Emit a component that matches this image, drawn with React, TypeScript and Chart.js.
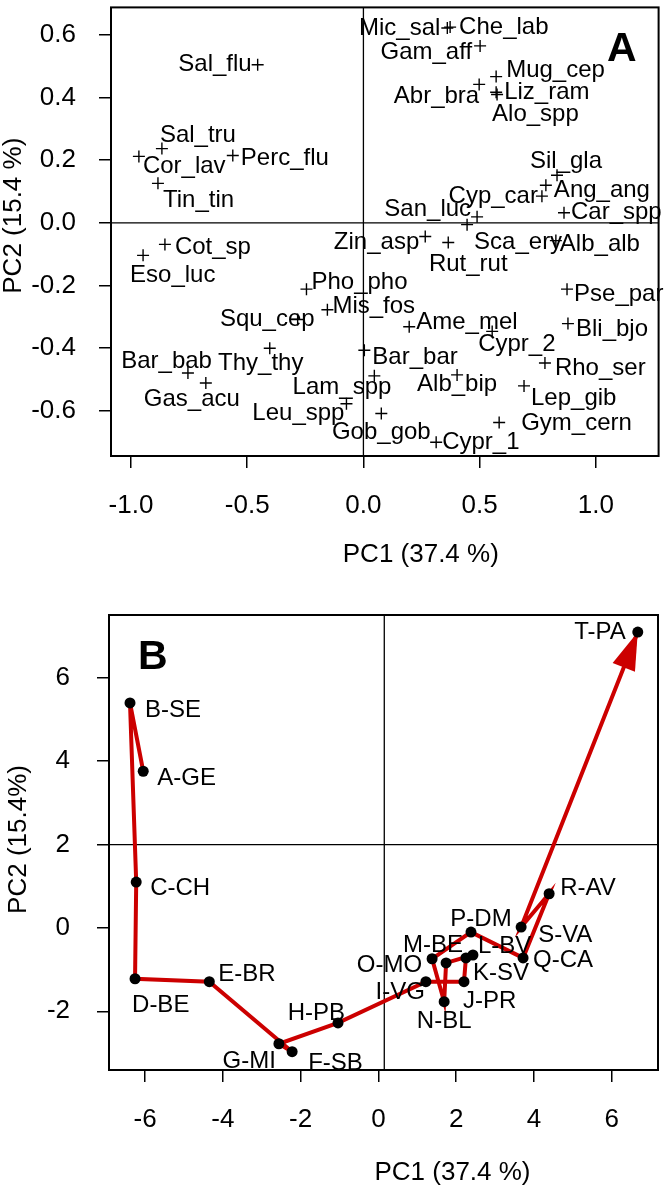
import React, { useEffect, useRef } from "react";
import { Chart, registerables } from "chart.js";
Chart.register(...registerables);

// ---------- Panel A data (species loadings) ----------
const speciesNames = [
  "Sal_flu", "Sal_tru", "Cor_lav", "Tin_tin", "Perc_flu", "Mic_sal", "Che_lab", "Gam_aff",
  "Mug_cep", "Abr_bra", "Liz_ram", "Alo_spp", "Sil_gla", "Ang_ang", "Cyp_car", "Car_spp",
  "San_luc", "Sca_ery", "Zin_asp", "Rut_rut", "Alb_alb", "Cot_sp", "Eso_luc", "Pho_pho",
  "Mis_fos", "Squ_cep", "Thy_thy", "Bar_bab", "Gas_acu", "Leu_spp", "Lam_spp", "Pse_par",
  "Ame_mel", "Cypr_2", "Bli_bjo", "Bar_bar", "Rho_ser", "Alb_bip", "Lep_gib", "Gob_gob",
  "Cypr_1", "Gym_cern",
];
const speciesPC1 = [
  -0.455, -0.867, -0.966, -0.884, -0.562, 0.361, 0.373, 0.502,
  0.571, 0.498, 0.571, 0.575, 0.833, 0.785, 0.768, 0.863,
  0.489, 0.446, 0.266, 0.365, 0.828, -0.854, -0.948, -0.245,
  -0.155, -0.283, -0.403, -0.755, -0.678, -0.073, 0.047, 0.876,
  0.197, 0.554, 0.88, 0.004, 0.781, 0.403, 0.691, 0.077,
  0.313, 0.584,
];
const speciesPC2 = [
  0.505, 0.237, 0.212, 0.126, 0.215, 0.622, 0.625, 0.565,
  0.467, 0.442, 0.417, 0.41, 0.152, 0.12, 0.085, 0.032,
  0.019, -0.006, -0.044, -0.063, -0.057, -0.069, -0.104, -0.212,
  -0.278, -0.309, -0.401, -0.48, -0.512, -0.578, -0.489, -0.212,
  -0.332, -0.347, -0.322, -0.407, -0.448, -0.486, -0.521, -0.609,
  -0.701, -0.638,
];
const ticksAx = [-1, -0.5, 0, 0.5, 1];
const ticksAy = [-0.6, -0.4, -0.2, 0, 0.2, 0.4, 0.6];

// ---------- Panel B data (site scores, trajectory order) ----------
const siteNames = [
  "A-GE", "B-SE", "C-CH", "D-BE", "E-BR", "F-SB", "G-MI", "H-PB", "I-VG", "J-PR",
  "K-SV", "L-BV", "M-BE", "N-BL", "O-MO", "P-DM", "Q-CA", "R-AV", "S-VA", "T-PA",
];
const sitePC1 = [
  -6.05, -6.39, -6.23, -6.26, -4.35, -2.22, -2.56, -1.04, 1.22, 2.2,
  2.25, 2.43, 1.74, 1.69, 1.38, 2.38, 3.72, 4.39, 3.67, 6.67,
];
const sitePC2 = [
  3.76, 5.4, 1.1, -1.22, -1.29, -2.97, -2.78, -2.28, -1.29, -1.29,
  -0.72, -0.65, -0.84, -1.77, -0.74, -0.1, -0.72, 0.82, 0.02, 7.1,
];
const ticksBx = [-6, -4, -2, 0, 2, 4, 6];
const ticksBy = [-2, 0, 2, 4, 6];

const xTitle = "PC1 (37.4 %)";
const yTitleA = "PC2 (15.4 %)";
const yTitleB = "PC2 (15.4%)";

// ---------- label placement (style: pixel offset from point + alignment) ----------
type Place = [number, number, CanvasTextAlign];
const labelPlaceA: Place[] = [
  [-6, 0, "right"], [-2, -13, "left"], [4, 10, "left"], [5, 17, "left"], [8, 3, "left"],
  [-7, 0, "right"], [9, 0, "left"], [-8, 6, "right"], [10, -6, "left"], [0, 12, "right"],
  [8, 0, "left"], [-5, 20, "left"], [9, -14, "center"], [8, 5, "left"], [-4, 0, "right"],
  [7, 0, "left"], [-6, -7, "right"], [7, 18, "left"], [-6, 6, "right"], [20, 22, "center"],
  [4, 4, "left"], [10, 3, "left"], [-13, 20, "left"], [5, -7, "left"], [5, -3, "left"],
  [17, 0, "right"], [-9, 15, "center"], [24, -12, "right"], [-14, 16, "center"], [-2, 10, "right"],
  [17, 12, "right"], [7, 5, "left"], [7, -4, "left"], [-14, 13, "left"], [8, 6, "left"],
  [8, 7, "left"], [10, 5, "left"], [0, 9, "center"], [7, 12, "left"], [0, 19, "center"],
  [6, 0, "left"], [22, 1, "left"],
];
const labelPlaceB: Place[] = [
  [14, 7, "left"], [15, 7, "left"], [14, 6, "left"], [-3, 27, "left"], [9, -7, "left"],
  [16, 12, "left"], [-3, 18, "right"], [7, -10, "right"], [-1, 11, "right"], [-1, 20, "left"],
  [7, 15, "left"], [5, -9, "left"], [17, -18, "right"], [0, 20, "center"], [-10, 7, "right"],
  [10, -13, "center"], [10, 2, "left"], [11, -5, "left"], [17, 8, "left"], [-12, 0, "right"],
];

const FONT = "'Liberation Sans', Arial, Helvetica, sans-serif";
const RED = "#CC0000";

interface PanelOpts {
  names: string[];
  place: Place[];
  refX: number;
  refY: number;
  letter: string;
  letterPos: "left" | "right";
  yTitle: string;
  xTitleDx: number;
  xTitleDy: number;
  yTitleX: number;
  yTitleDy: number;
  arrow: boolean;
}

function panelPlugin(o: PanelOpts) {
  return {
    id: "panelDecor",
    beforeDatasetsDraw(chart: any) {
      const { ctx, chartArea: a, scales } = chart;
      const xs = scales.x, ys = scales.y;
      ctx.save();
      ctx.strokeStyle = "#000";
      ctx.lineWidth = 1.3;
      const vx = xs.getPixelForValue(o.refX);
      const hy = ys.getPixelForValue(o.refY);
      ctx.beginPath();
      ctx.moveTo(vx, a.top);
      ctx.lineTo(vx, a.bottom);
      ctx.moveTo(a.left, hy);
      ctx.lineTo(a.right, hy);
      ctx.stroke();
      if (o.arrow) {
        const pts = chart.getDatasetMeta(0).data;
        const p2 = pts[pts.length - 1];
        const p1 = pts[pts.length - 2];
        const dx = p2.x - p1.x, dy = p2.y - p1.y;
        const len = Math.hypot(dx, dy);
        const ux = dx / len, uy = dy / len;
        const L = 38, W = 12;
        const bx = p2.x - ux * L, by = p2.y - uy * L;
        ctx.fillStyle = RED;
        ctx.beginPath();
        ctx.moveTo(p2.x, p2.y);
        ctx.lineTo(bx - uy * W, by + ux * W);
        ctx.lineTo(bx + uy * W, by - ux * W);
        ctx.closePath();
        ctx.fill();
      }
      ctx.restore();
    },
    afterDatasetsDraw(chart: any) {
      const { ctx, chartArea: a } = chart;
      const pts = chart.getDatasetMeta(0).data;
      ctx.save();
      ctx.fillStyle = "#000";
      ctx.font = `24px ${FONT}`;
      ctx.textBaseline = "middle";
      o.names.forEach((n, i) => {
        const [dx, dy, al] = o.place[i];
        ctx.textAlign = al;
        ctx.fillText(n, pts[i].x + dx, pts[i].y + dy);
      });
      // box
      ctx.strokeStyle = "#000";
      ctx.lineWidth = 2;
      ctx.strokeRect(a.left, a.top, a.right - a.left, a.bottom - a.top);
      // panel letter
      ctx.font = `bold 41px ${FONT}`;
      if (o.letterPos === "right") {
        ctx.textAlign = "right";
        ctx.fillText(o.letter, a.right - 22, a.top + 42);
      } else {
        ctx.textAlign = "left";
        ctx.fillText(o.letter, a.left + 29, a.top + 43);
      }
      // axis titles
      ctx.font = `26px ${FONT}`;
      ctx.textAlign = "center";
      ctx.fillText(xTitle, (a.left + a.right) / 2 + o.xTitleDx, a.bottom + o.xTitleDy);
      ctx.save();
      ctx.translate(o.yTitleX, (a.top + a.bottom) / 2 + o.yTitleDy);
      ctx.rotate(-Math.PI / 2);
      ctx.fillText(o.yTitle, 0, 0);
      ctx.restore();
      ctx.restore();
    },
  };
}

function axis(min: number, max: number, ticks: number[], fmt: (v: number) => string, fit: (s: any) => void, pad: number) {
  return {
    type: "linear" as const,
    min,
    max,
    afterBuildTicks: (s: any) => {
      s.ticks = ticks.map((v) => ({ value: v }));
    },
    afterFit: (s: any) => {
      fit(s);
      s.paddingTop = 0;
      s.paddingBottom = 0;
      s.paddingLeft = 0;
      s.paddingRight = 0;
    },
    ticks: {
      font: { family: FONT, size: 26 },
      color: "#000",
      padding: pad,
      autoSkip: false,
      maxRotation: 0,
      callback: (v: any) => fmt(Number(v)),
    },
    grid: { drawOnChartArea: false, drawTicks: true, tickLength: 12, color: "#000", lineWidth: 1.5 },
    border: { display: false },
  };
}

export default function App() {
  const refA = useRef<HTMLCanvasElement>(null);
  const refB = useRef<HTMLCanvasElement>(null);

  useEffect(() => {
    const dataA = speciesNames.map((_, i) => ({ x: speciesPC1[i], y: speciesPC2[i] }));
    const dataB = siteNames.map((_, i) => ({ x: sitePC1[i], y: sitePC2[i] }));

    const chartA = new Chart(refA.current!, {
      type: "scatter",
      data: {
        datasets: [
          {
            data: dataA,
            pointStyle: "cross",
            radius: 6,
            borderWidth: 1.4,
            borderColor: "#000",
            backgroundColor: "#000",
          },
        ],
      },
      options: {
        responsive: false,
        animation: false,
        devicePixelRatio: 1,
        layout: { padding: { left: 0, right: 6, top: 2, bottom: 0 } },
        plugins: { legend: { display: false }, tooltip: { enabled: false } },
        scales: {
          x: axis(-1.086, 1.27, ticksAx, (v) => v.toFixed(1), (s) => { s.height = 134; }, 22),
          y: axis(-0.745, 0.688, ticksAy, (v) => v.toFixed(1), (s) => { s.width = 111; }, 23),
        },
      },
      plugins: [
        panelPlugin({
          names: speciesNames, place: labelPlaceA, refX: 0, refY: 0, letter: "A", letterPos: "right",
          yTitle: yTitleA, xTitleDx: 36, xTitleDy: 99, yTitleX: 14, yTitleDy: -16, arrow: false,
        }),
      ],
    } as any);

    const chartB = new Chart(refB.current!, {
      type: "scatter",
      data: {
        datasets: [
          {
            data: dataB,
            showLine: true,
            borderColor: RED,
            borderWidth: 4,
            pointRadius: 5.5,
            pointBackgroundColor: "#000",
            pointBorderWidth: 0,
            pointBorderColor: "#000",
          },
        ],
      },
      options: {
        responsive: false,
        animation: false,
        devicePixelRatio: 1,
        layout: { padding: { left: 0, right: 8, top: 25, bottom: 0 } },
        plugins: { legend: { display: false }, tooltip: { enabled: false } },
        scales: {
          x: axis(-6.93, 7.19, ticksBx, (v) => String(v), (s) => { s.height = 120; }, 22),
          y: axis(-3.41, 7.51, ticksBy, (v) => String(v), (s) => { s.width = 109; }, 27),
        },
      },
      plugins: [
        panelPlugin({
          names: siteNames, place: labelPlaceB, refX: 0.15, refY: 2, letter: "B", letterPos: "left",
          yTitle: yTitleB, xTitleDx: 69, xTitleDy: 103, yTitleX: 19, yTitleDy: -3, arrow: true,
        }),
      ],
    } as any);

    return () => {
      chartA.destroy();
      chartB.destroy();
    };
  }, []);

  return (
    <div style={{ position: "absolute", left: 0, top: 0, width: 666, height: 1190, background: "#fff" }}>
      <canvas ref={refA} width={666} height={590} style={{ position: "absolute", left: 0, top: 0 }} />
      <canvas ref={refB} width={666} height={600} style={{ position: "absolute", left: 0, top: 590 }} />
    </div>
  );
}
